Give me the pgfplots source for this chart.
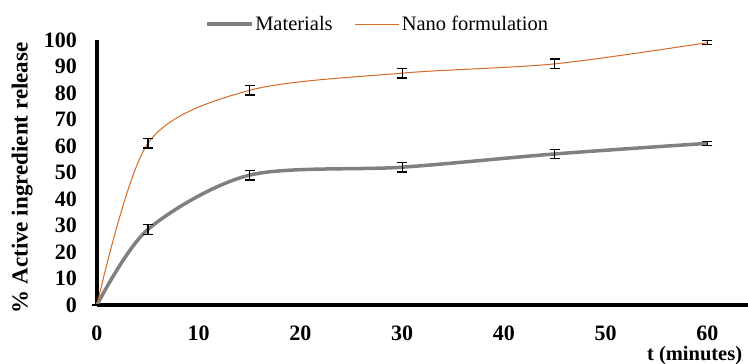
\documentclass[border=0pt]{standalone}
\usepackage{fontspec}
\setmainfont{Liberation Serif}
\usepackage{pgfplots}
\pgfplotsset{compat=1.18}
\definecolor{orng}{RGB}{214,105,35}
\definecolor{gry}{RGB}{128,128,128}
\begin{document}
\begin{tikzpicture}
\path[use as bounding box] (-97pt,-59pt) rectangle (651pt,305pt);
\begin{axis}[
  at={(0,0)}, anchor=south west,
  scale only axis, width=651pt, height=265pt,
  xmin=0, xmax=64, ymin=0, ymax=100,
  axis lines=left, axis line style={line width=3.5pt, -},
  xtick={0,10,...,60}, ytick={0,10,...,100},
  major tick length=0pt,
  /pgf/number format/assume math mode=true,
  ticklabel style={font=\bfseries\fontsize{22}{22}\selectfont},
  xticklabel style={yshift=-17.5pt},
  yticklabel style={xshift=-16.5pt},
  xlabel={t (minutes)}, ylabel={\% Active ingredient release},
  label style={font=\bfseries\fontsize{23}{23}\selectfont},
  xlabel style={font=\bfseries\fontsize{20.5}{20.5}\selectfont, at={(axis description cs:0.918,-0.208)}, anchor=base},
  ylabel style={at={(axis description cs:-0.115,0.48)}, anchor=center},
  legend style={draw=none, at={(axis description cs:0.162,1.06)}, anchor=west,
    font=\fontsize{20.5}{20.5}\selectfont, legend columns=2,
    /tikz/every even column/.append style={column sep=20pt}},
  legend image code/.code={\draw[#1] (0cm,0cm) -- (1.55cm,0cm);},
  clip=false,
]
\addplot[gry, line width=3.5pt, smooth, tension=0.5,
  error bars/.cd, y dir=both, y explicit,
  error bar style={black, line width=1.3pt}, error mark options={rotate=90, mark size=5pt, black, line width=1.3pt}]
  coordinates {(0,0) +- (0,0) (5,28.5) +- (0,1.8) (15,49) +- (0,1.8) (30,52) +- (0,1.8) (45,57) +- (0,1.8) (60,61) +- (0,0.8)};
\addlegendentry{Materials}
\addplot[orng, line width=1pt, smooth, tension=0.5,
  error bars/.cd, y dir=both, y explicit,
  error bar style={black, line width=1.3pt}, error mark options={rotate=90, mark size=5pt, black, line width=1.3pt}]
  coordinates {(0,0) +- (0,0) (5,61) +- (0,1.8) (15,81) +- (0,1.8) (30,87.5) +- (0,1.8) (45,91) +- (0,1.8) (60,99) +- (0,0.8)};
\addlegendentry{Nano formulation}
\end{axis}
\end{tikzpicture}
\end{document}
